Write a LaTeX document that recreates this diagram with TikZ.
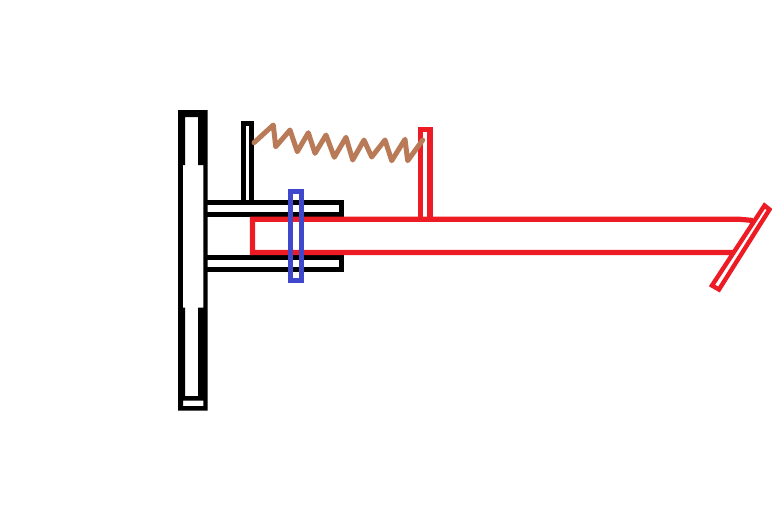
\documentclass[tikz,border=0pt]{standalone}
\usepackage{xcolor}
\definecolor{PedalRed}{HTML}{ED1C24}
\definecolor{CollarBlue}{HTML}{3F48CC}
\definecolor{SpringBrown}{HTML}{B97A57}
\tikzset{%
  frame_part/.style={%
    draw=black,%
    line width=5.6pt,%
    line join=miter,%
  },
  pedal_part/.style={%
    draw=PedalRed,%
    line width=5.2pt,%
    line join=miter,%
  },
  foot_part/.style={%
    draw=PedalRed,%
    line width=4.4pt,%
    line join=miter,%
  },
  collar_part/.style={%
    draw=CollarBlue,%
    line width=5.6pt,%
  },
  spring_part/.style={%
    draw=SpringBrown,%
    line width=5pt,%
    line join=round,%
    line cap=round,%
  },
}
\begin{document}
\begin{tikzpicture}[x=1pt, y=-1pt]
  \useasboundingbox (0, 0) rectangle (772, 504);

  % back plate
  \fill [black, even odd rule]
    (178, 110) rectangle (207.7, 410.7)
    (185, 117) -- (198, 117) -- (198, 165) -- (203.3, 165)
    -- (203.3, 307.7) -- (198, 307.7) -- (198, 396) -- (185, 396)
    -- (185, 307.7) -- (182.8, 307.7) -- (182.8, 165) -- (185, 165) -- cycle
    (183, 400.7) rectangle (203.3, 406);

  % bracket
  \draw [frame_part] (207, 202.5) -- (341.5, 202.5) -- (341.5, 214.5) -- (207, 214.5);
  \draw [frame_part] (207, 257.5) -- (341.5, 257.5) -- (341.5, 269.5) -- (207, 269.5);
  \draw [frame_part] (243.5, 202) -- (243.5, 123.5) -- (251.5, 123.5) -- (251.5, 202);

  % pedal
  \draw [pedal_part]
    (753, 220.5) -- (740, 219.3) -- (252.5, 219.3) -- (252.5, 252.5) -- (734, 252.5);
  \draw [pedal_part] (420.5, 219) -- (420.5, 129.5) -- (430, 129.5) -- (430, 219);
  \draw [foot_part] (764.5, 205.5) -- (769.5, 209.5) -- (719, 289.5) -- (712, 285.5) -- cycle;

  % collar
  \draw [collar_part] (290.5, 191.5) rectangle (301.5, 280.5);

  % spring
  \draw [spring_part]
    (254, 142.7) -- (273.3, 125) -- (275.7, 146.7) -- (290, 130) -- (297.3, 151.7)
    -- (308.3, 132.7) -- (315, 153.3) -- (326, 135) -- (334.3, 157.3) -- (346, 137.3)
    -- (352.7, 160) -- (364, 140) -- (371.7, 157) -- (385, 140) -- (391.7, 160.7)
    -- (405, 139.3) -- (407.7, 160.7) -- (422.7, 140);
\end{tikzpicture}
\end{document}
